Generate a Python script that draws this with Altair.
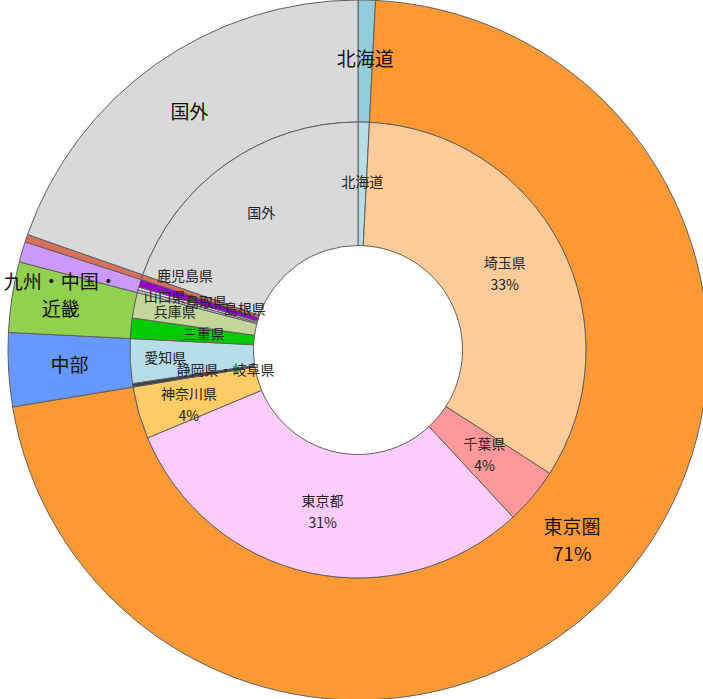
import altair as alt
import pandas as pd
import math

# ---- data ----
outer_labels = ["北海道", "東京圏\n71%", "中部", "九州・中国・\n近畿", "", "", "国外"]
outer_values = [0.8, 71.6, 3.4, 3.25, 0.95, 0.35, 19.65]

inner_labels = ["北海道", "埼玉県\n33%", "千葉県\n4%", "東京都\n31%", "神奈川県\n4%",
                "静岡県・岐阜県", "愛知県", "三重県", "兵庫県", "山口県", "島根県",
                "鳥取県", "鹿児島県", "国外"]
inner_values = [0.8, 33.3, 4.0, 30.6, 3.7, 0.25, 3.15, 1.45, 1.8, 0.2, 0.2, 0.55, 0.35, 19.65]

# ---- styles ----
outer_colors = ["#92cddc", "#ff9933", "#6699ff", "#92d050", "#cc99ff", "#d9705a", "#d9d9d9"]
inner_colors = ["#b7dee8", "#ffcc99", "#ff9999", "#ffccff", "#ffcc66", "#3a3f4a", "#b7dee8",
                "#00cc00", "#c4d79b", "#ccc0da", "#e4dfec", "#9900cc", "#d9705a", "#d9d9d9"]
# label placement: radius in px and angular nudge (in value units) from the slice middle
outer_label_r = [290, 287, 289, 302, 290, 290, 291]
outer_label_dt = [0, 0, 0, 0.4, 0, 0, 0]
inner_label_r = [167, 165, 165, 167, 178, 134, 193, 155, 187, 200, 120, 159, 188, 167]
inner_label_dt = [0, 0, 0, 0, -0.6, 0, 0, 0, 0, 0, 1.0, 0, 1.2, 0]

CX, CY = 358, 350
R_OUT, R_MID, R_IN = 350, 228, 104.5
FONT = "Noto Sans CJK JP"

outer_keys = [f"o{i}" for i in range(len(outer_values))]
inner_keys = [f"i{i}" for i in range(len(inner_values))]

outer_df = pd.DataFrame({"key": outer_keys, "label": outer_labels, "value": outer_values,
                         "idx": list(range(len(outer_values))), "lr": outer_label_r,
                         "dt": outer_label_dt})
inner_df = pd.DataFrame({"key": inner_keys, "label": inner_labels, "value": inner_values,
                         "idx": list(range(len(inner_values))), "lr": inner_label_r,
                         "dt": inner_label_dt})

color_scale = alt.Scale(domain=outer_keys + inner_keys, range=outer_colors + inner_colors)
theta = alt.Theta("value:Q", stack=True)
order = alt.Order("idx:Q")


def arc_layer(df, r_out, r_in):
    return alt.Chart(df).mark_arc(
        outerRadius=r_out, innerRadius=r_in, stroke="#5f5f5f", strokeWidth=1
    ).encode(theta=theta, order=order,
             color=alt.Color("key:N", scale=color_scale, legend=None),
             x=alt.value(CX), y=alt.value(CY))


def text_layer(df, total, multiline, line_h, **kw):
    test = "indexof(datum.label, '\\n') >= 0"
    return alt.Chart(df).transform_window(
        cum="sum(value)", sort=[alt.SortField("idx")], frame=[None, 0]
    ).transform_calculate(
        mid="datum.cum - datum.value / 2 + datum.dt"
    ).transform_filter(
        test if multiline else "!(" + test + ")"
    ).mark_text(font=FONT, lineBreak="\n", align="center", baseline="middle",
                lineHeight=line_h, dy=(-line_h / 2 if multiline else 0), **kw).encode(
        theta=alt.Theta("mid:Q", stack=None,
                        scale=alt.Scale(domain=[0, total], range=[0, 2 * math.pi])),
        radius=alt.Radius("lr:Q", scale=None),
        text="label:N", x=alt.value(CX), y=alt.value(CY))


outer_arc = arc_layer(outer_df, R_OUT, R_MID)
inner_arc = arc_layer(inner_df, R_MID, R_IN)
layers = [outer_arc, inner_arc]
for ml in (False, True):
    layers.append(text_layer(outer_df, sum(outer_values), ml, 27, fontSize=19, color="#111111"))
    layers.append(text_layer(inner_df, sum(inner_values), ml, 22, fontSize=14, color="#222222"))

chart = alt.layer(*layers).resolve_scale(
    theta="independent"
).properties(
    width=703, height=699, padding=0, autosize="none"
).configure_view(stroke=None)

chart.save("out.html", embed_options={"renderer": "svg", "actions": False})
